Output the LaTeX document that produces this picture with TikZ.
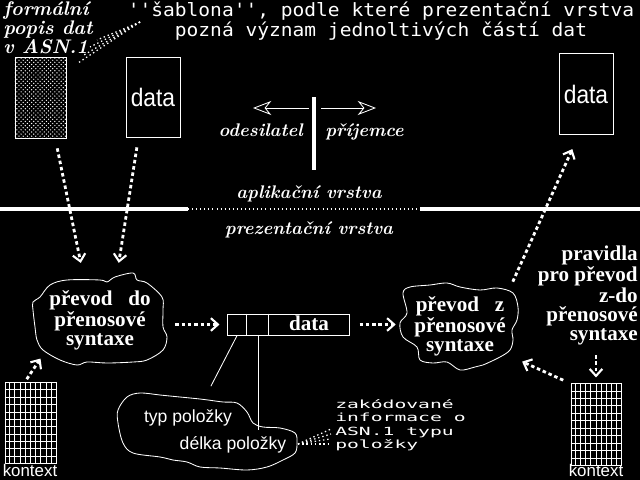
\documentclass[tikz,border=0pt]{standalone}
\usepackage{fontspec}
\newfontfamily\titulfont[Ligatures=TeXOff, FakeStretch=1.07]{DejaVu Sans Mono}
\newfontfamily\sirokyfont[FakeStretch=1.75]{DejaVu Sans Mono}
\newfontfamily\patkafont{Liberation Serif}
\newfontfamily\bezpatkyfont{Liberation Sans}
\newfontfamily\uzkyfont[FakeStretch=0.9]{Liberation Sans}
\usetikzlibrary{arrows.meta, positioning, patterns, calc}

\tikzset{
  popisek/.style={text=white, inner sep=0pt},
  nadpis/.style={popisek, font=\titulfont\fontsize{13}{12.2}\selectfont, align=center},
  kurziva/.style={popisek, font=\bfseries\itshape\fontsize{13}{12.5}\selectfont},
  patka/.style={popisek, font=\patkafont\bfseries\fontsize{15}{13.5}\selectfont},
  bezpatky/.style={popisek, font=\bezpatkyfont\fontsize{12.5}{14}\selectfont},
  krabice/.style={draw=white, line width=0.7pt, inner sep=0pt},
  datakrabice/.style={krabice, minimum width=1.35cm, text=white, font=\uzkyfont\fontsize{18}{18}\selectfont},
  oblak/.style={inner sep=0pt},
  obrys/.style={white, line width=0.6pt},
  tok/.style={white, line width=2pt, dash pattern=on 2.5pt off 2pt,
    -{Straight Barb[length=5pt, width=9pt, line width=1.5pt]}},
  sprej/.style={white, line width=0.9pt, dash pattern=on 1pt off 2pt},
  spojnice/.style={white, line width=0.6pt},
  mrizka/.style={white, line width=0.6pt},
}

\begin{document}
\begin{tikzpicture}[x=0.025cm, y=-0.025cm]
	% 1. pozadi
	\fill[black] (0,0) rectangle (640,480);
	\useasboundingbox (0,0) rectangle (640,480);

	% 2. nadpis a popisky nahore
	\node[nadpis, anchor=north] (sablona) at (381,2)
		{''šablona'', podle které prezentační vrstva\\pozná význam jednoltivých částí dat};
	\node[kurziva, font=\bfseries\itshape\fontsize{14}{12.5}\selectfont, align=left, anchor=north west] (formalni) at (3,1)
		{formální\\popis dat\\v ASN.1};

	% 3. obdelniky s daty
	\node[krabice, minimum width=1.275cm, minimum height=2cm,
		pattern=crosshatch dots, pattern color=white] (popis) at (40.5,98) {};
	\node[datakrabice, minimum height=1.975cm] (data1) at (153,97.5) {data};
	\node[datakrabice, minimum height=2cm] (data2) at (586,94) {data};

	% 4. odesilatel / prijemce
	\coordinate (predelA) at (314,97);
	\coordinate (predelB) at (314,170);
	\draw[white, line width=2.2pt] (predelA) -- (predelB);
	\coordinate (sipL1) at (309,108);
	\coordinate (sipL2) at (253,108);
	\coordinate (sipR1) at (321,108);
	\coordinate (sipR2) at (376,108);
	\draw[white, line width=0.6pt, -{Stealth[open, length=13pt, width=10pt, inset=4pt]}] (sipL1) -- (sipL2);
	\draw[white, line width=0.6pt, -{Stealth[open, length=13pt, width=10pt, inset=4pt]}] (sipR1) -- (sipR2);
	\node[kurziva, anchor=base east] (odesilatel) at (303,136) {odesilatel};
	\node[kurziva, anchor=base west] (prijemce) at (325,136) {příjemce};

	% 5. hranice vrstev
	\coordinate (vrstvaL) at (0,209);
	\coordinate (vrstvaA) at (188,209);
	\coordinate (vrstvaB) at (420,209);
	\coordinate (vrstvaR) at (640,209);
	\draw[white, line width=3.5pt] (vrstvaL) -- (vrstvaA);
	\draw[white, line width=2pt, dash pattern=on 0.7pt off 2.2pt] (vrstvaA) -- (vrstvaB);
	\draw[white, line width=3.5pt] (vrstvaB) -- (vrstvaR);
	\node[kurziva, anchor=base] (aplikacni) at (309,198) {aplikační vrstva};
	\node[kurziva, anchor=base] (prezentacni) at (309,234) {prezentační vrstva};

	% 6. oblaky prevodu
	\node[oblak, patka, align=center, minimum width=3.35cm, minimum height=2.35cm] (oblak1) at (100,320)
		{převod\enspace{} do\\přenosové\\syntaxe};
	\draw[obrys] plot[smooth cycle, tension=0.55] coordinates {
		(50,285) (67,280) (100,280) (107,282) (115,277) (133,273) (137,280) (147,283)
		(162,297) (163,310) (163,327) (167,337) (163,350) (147,360) (133,362) (107,363)
		(87,362) (77,365) (60,360) (43,350) (37,340) (35,327) (33,310) (33,302) (40,297)};
	\node[oblak, patka, align=center, minimum width=3cm, minimum height=2.2cm] (oblak2) at (460,326)
		{převod\enspace{} z\\přenosové\\syntaxe};
	\draw[obrys] plot[smooth cycle, tension=0.55] coordinates {
		(410,287) (430,285) (447,283) (460,287) (480,290) (497,288) (513,293) (518,307)
		(517,320) (512,330) (513,340) (510,350) (500,357) (483,365) (475,367) (460,370)
		(447,362) (433,363) (420,360) (417,347) (403,337) (400,323) (407,313) (403,293)};

	% 7. zaznam s polozkami
	\node[krabice, minimum width=3.025cm, minimum height=0.525cm] (zaznam) at (288.5,324.5) {};
	\coordinate (pole1) at ([xshift=0.475cm]zaznam.north west);
	\coordinate (pole2) at ([xshift=1.025cm]zaznam.north west);
	\draw[spojnice] (pole1) -- (pole1 |- zaznam.south);
	\draw[spojnice] (pole2) -- (pole2 |- zaznam.south);
	\node[patka, anchor=base] (zaznamdata) at (309,330) {data};

	% 8. oblak typ / delka
	\node[oblak, minimum width=4.5cm, minimum height=1.9cm] (oblak3) at (207,432) {};
	\draw[obrys] plot[smooth cycle, tension=0.55] coordinates {
		(127,397) (140,393) (160,395) (180,397) (200,399) (208,400) (223,402) (237,403)
		(247,412) (253,423) (263,427) (280,428) (295,433) (297,443) (295,453) (283,460)
		(267,467) (247,470) (220,468) (200,467) (187,462) (173,460) (160,457) (133,453)
		(123,443) (118,423) (118,410)};
	\node[bezpatky, anchor=base] (typ) at (188,422) {typ položky};
	\node[bezpatky, anchor=base] (delka) at (233,449) {délka položky};
	\coordinate (stred1) at ([xshift=0.24cm]zaznam.south west);
	\coordinate (stred2) at ([xshift=0.775cm]zaznam.south west);
	\draw[spojnice, shorten >=6pt] (stred1) -- (oblak3.north);
	\draw[spojnice, shorten >=4pt] (stred2) -- (stred2 |- delka.north);

	\node[popisek, font=\sirokyfont\fontsize{8}{9.6}\selectfont, align=left, anchor=north west] (zakodovane) at (335,399)
		{zakódované\\informace o\\ASN.1 typu\\položky};

	% 9. pravidla a kontexty
	\node[patka, align=right, anchor=north east] (pravidla) at (638,246)
		{pravidla\\pro převod\\z-do\hspace*{14pt}\\přenosové\\syntaxe};
	\node[krabice, minimum width=1.275cm, minimum height=2cm] (ktx1) at (30.5,423) {};
	\node[krabice, minimum width=1.25cm, minimum height=2.025cm] (ktx2) at (596,424.5) {};
	\foreach \k in {ktx1,ktx2}{
		\foreach \i in {1,...,9}
			\draw[mrizka] ($(\k.north west)!\i/10!(\k.north east)$) -- ($(\k.south west)!\i/10!(\k.south east)$);
		\foreach \j in {1,...,10}
			\draw[mrizka] ($(\k.north west)!\j/11!(\k.south west)$) -- ($(\k.north east)!\j/11!(\k.south east)$);
	}
	\node[bezpatky, font=\bezpatkyfont\fontsize{12}{12}\selectfont, anchor=base] (kontext1) at (30,476) {kontext};
	\node[bezpatky, font=\bezpatkyfont\fontsize{12}{12}\selectfont, anchor=base] (kontext2) at (596,476) {kontext};

	% 10. toky dat
	\draw[tok, shorten <=0.25cm, shorten >=0.25cm] (popis.-70) -- (oblak1.110);
	\draw[tok, shorten <=0.25cm, shorten >=0.25cm] (data1.-110) -- (oblak1.70);
	\draw[tok, shorten <=0.1cm, shorten >=0.1cm] ([xshift=-0.15cm]ktx1.north) -- ([shift={(0.25cm,0.3cm)}]oblak1.south west);
	\draw[tok, shorten <=0.2cm, shorten >=0.2cm] (oblak1.east |- zaznam) -- (zaznam.west);
	\draw[tok, shorten <=0.25cm, shorten >=0.1cm] (zaznam.east) -- (oblak2.west |- zaznam);
	\draw[tok, shorten >=0.4cm] (oblak2.40) -- (data2.-100);
	\draw[tok, shorten <=0.2cm, shorten >=0.05cm] (ktx2.north west) -- (oblak2.-30);
	\draw[tok, line width=1pt, shorten <=0.25cm, shorten >=0.15cm] (pravidla.south -| ktx2.north) -- (ktx2.north);

	% 11. teckovane odkazy
	\coordinate (spA) at (140,22);
	\foreach \p in {(78,63), (84,55), (90,47), (97,40)}
		\draw[sprej] (spA) -- \p;
	\coordinate (spB) at (298,444);
	\foreach \p in {(331,429), (331,434), (330,439), (328,444)}
		\draw[sprej] (spB) -- \p;
\end{tikzpicture}
\end{document}
